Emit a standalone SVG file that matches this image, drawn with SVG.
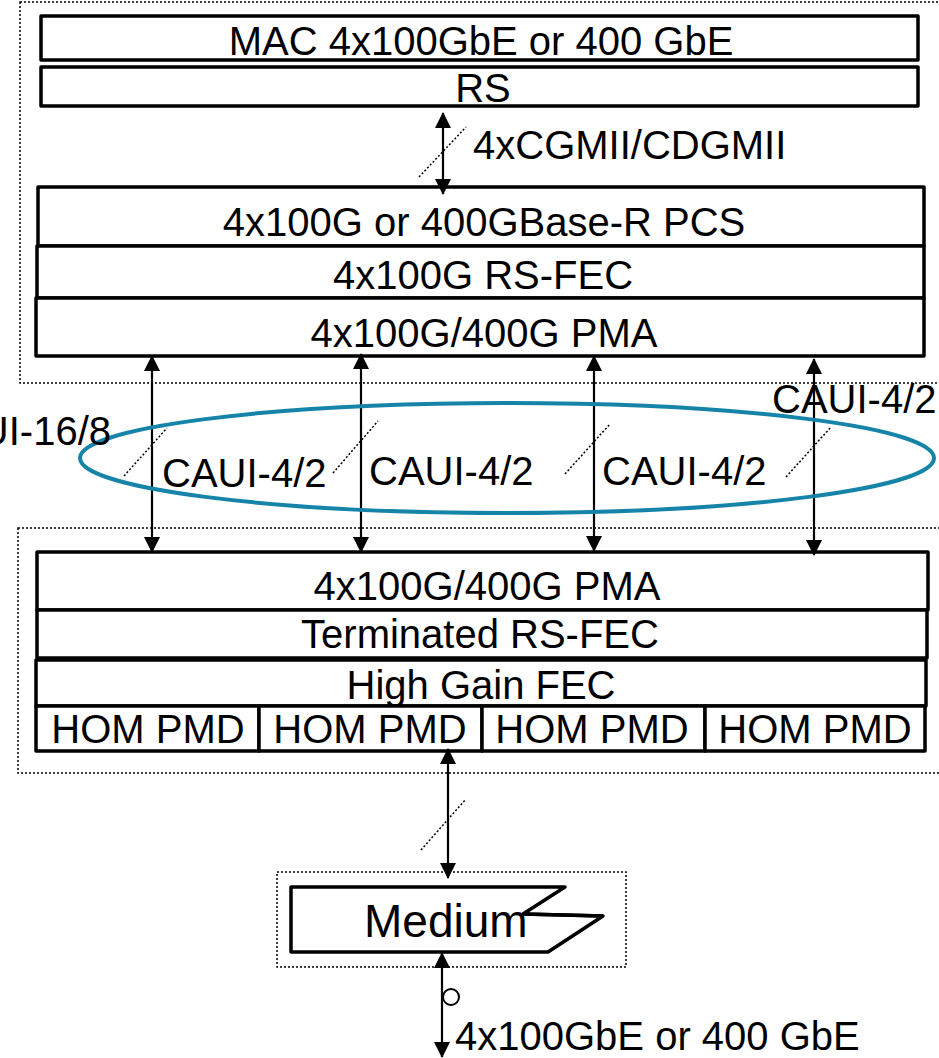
<svg xmlns="http://www.w3.org/2000/svg" width="939" height="1058" viewBox="0 0 939 1058">
<defs>
<marker id="ah" viewBox="0 0 16 16" refX="15" refY="8" markerWidth="16" markerHeight="16" markerUnits="userSpaceOnUse" orient="auto-start-reverse">
<path d="M0,0 L16,8 L0,16 Z" fill="#000"/>
</marker>
<style>
.box{fill:#fff;stroke:#000;stroke-width:3.5;stroke-linejoin:round}
.grp{fill:none;stroke:#000;stroke-width:1.5;stroke-dasharray:2 2}
.lbl{font-family:"Liberation Sans",Arial,sans-serif;font-size:40px;fill:#000}
.mid{text-anchor:middle}
.arr{stroke:#000;stroke-width:2.2;fill:none;marker-start:url(#ah);marker-end:url(#ah)}
.sl{stroke:#000;stroke-width:1.5;stroke-dasharray:2 2;fill:none}
</style>
</defs>
<rect width="939" height="1058" fill="#fff"/>
<g id="groups">
<rect class="grp" x="20" y="2" width="940" height="381"/>
<rect class="grp" x="18" y="528" width="940" height="245"/>
<rect class="grp" x="277" y="872" width="349" height="95"/>
</g>
<g id="mac"><rect class="box" x="41" y="16" width="877" height="44"/><text class="lbl mid" x="481" y="55">MAC 4x100GbE or 400 GbE</text></g>
<g id="rs"><rect class="box" x="41" y="67" width="877" height="39"/><text class="lbl mid" x="483" y="102">RS</text></g>
<g id="pcs"><rect class="box" x="38" y="187" width="886" height="59"/><text class="lbl mid" x="484" y="236">4x100G or 400GBase-R PCS</text></g>
<g id="rsfec"><rect class="box" x="37" y="246" width="887" height="52"/><text class="lbl mid" x="483" y="289">4x100G RS-FEC</text></g>
<g id="pma-top"><rect class="box" x="36" y="298" width="888" height="58"/><text class="lbl mid" x="484" y="347">4x100G/400G PMA</text></g>
<g id="pma-bot"><rect class="box" x="37" y="552" width="891" height="58"/><text class="lbl mid" x="487" y="600">4x100G/400G PMA</text></g>
<g id="trsfec"><rect class="box" x="37" y="610" width="890" height="48"/><text class="lbl mid" x="480" y="648">Terminated RS-FEC</text></g>
<g id="hgfec"><rect class="box" x="36" y="660" width="890" height="46"/><text class="lbl mid" x="481" y="699">High Gain FEC</text></g>
<g id="pmd1"><rect class="box" x="36" y="706" width="223" height="45"/><text class="lbl mid" x="148" y="743">HOM PMD</text></g>
<g id="pmd2"><rect class="box" x="259" y="706" width="223" height="45"/><text class="lbl mid" x="370" y="743">HOM PMD</text></g>
<g id="pmd3"><rect class="box" x="482" y="706" width="223" height="45"/><text class="lbl mid" x="592" y="743">HOM PMD</text></g>
<g id="pmd4"><rect class="box" x="705" y="706" width="220" height="45"/><text class="lbl mid" x="815" y="743">HOM PMD</text></g>
<g id="medium">
<path class="box" d="M291,887 L565,887 L523,914 L603,916 L548,952 L291,952 Z"/>
<path d="M523,914 L603,916" stroke="#000" stroke-width="3.5" fill="none"/>
<text class="lbl" x="364" y="937" style="font-size:46px">Medium</text>
</g>
<g id="connectors">
<line class="arr" x1="443" y1="113" x2="443" y2="194"/>
<line class="sl" x1="419" y1="177" x2="466" y2="127"/>
<line class="arr" x1="152" y1="356" x2="152" y2="552"/>
<line class="arr" x1="361" y1="354" x2="361" y2="552"/>
<line class="arr" x1="594" y1="356" x2="594" y2="551"/>
<line class="arr" x1="814" y1="359" x2="814" y2="555"/>
<line class="sl" x1="124" y1="476" x2="167" y2="428"/>
<line class="sl" x1="333" y1="473" x2="378" y2="421"/>
<line class="sl" x1="565" y1="474" x2="610" y2="424"/>
<line class="sl" x1="786" y1="477" x2="831" y2="427"/>
<line class="arr" x1="448" y1="749" x2="448" y2="878"/>
<line class="sl" x1="421" y1="850" x2="466" y2="799"/>
<line class="arr" x1="442" y1="953" x2="442" y2="1057"/>
<circle cx="451" cy="997" r="8" fill="#fff" stroke="#000" stroke-width="2"/>
</g>
<ellipse cx="507" cy="458" rx="427" ry="55" fill="none" stroke="#1584A8" stroke-width="4"/>
<g id="labels">
<text class="lbl" x="473" y="159">4xCGMII/CDGMII</text>
<text class="lbl" x="111" y="445" text-anchor="end">CDAUI-16/8</text>
<text class="lbl" x="162" y="487">CAUI-4/2</text>
<text class="lbl" x="369" y="485">CAUI-4/2</text>
<text class="lbl" x="602" y="485">CAUI-4/2</text>
<text class="lbl" x="772" y="413">CAUI-4/2</text>
<text class="lbl" x="455" y="1050">4x100GbE or 400 GbE</text>
</g>
</svg>
